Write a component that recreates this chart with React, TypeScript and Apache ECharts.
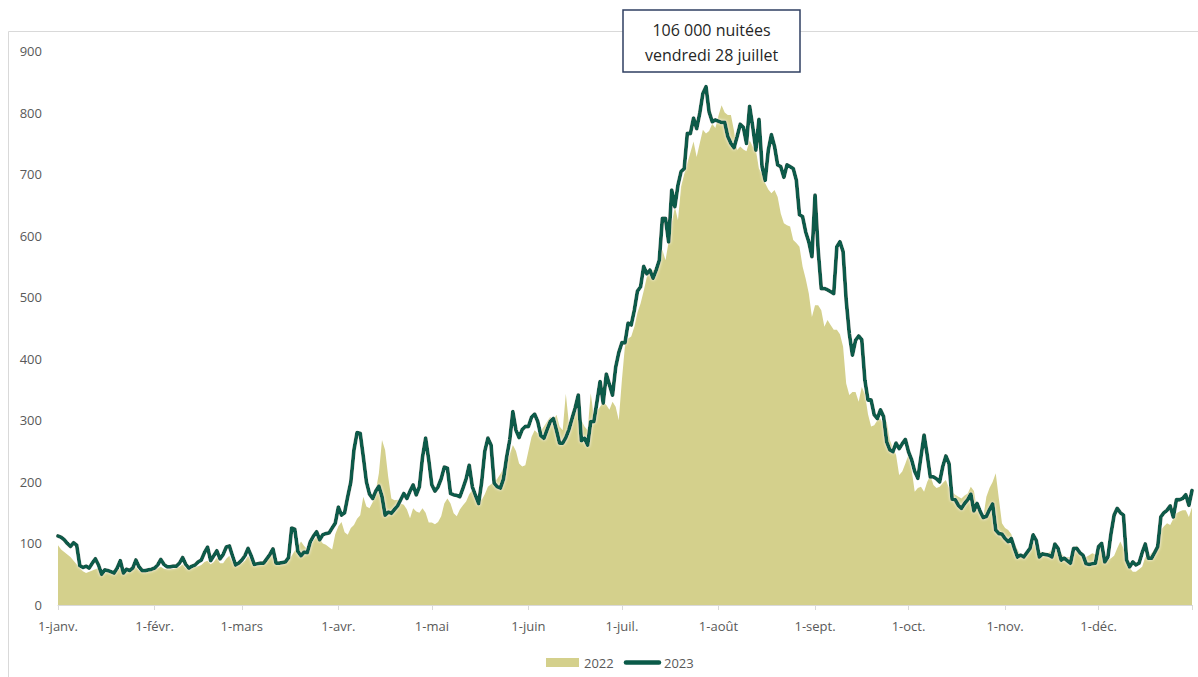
import React, { useEffect, useRef } from "react";
import * as echarts from "echarts";

const monthNames = ["janv.", "févr.", "mars", "avr.", "mai", "juin", "juil.", "août", "sept.", "oct.", "nov.", "déc."];
const monthLengths = [31, 28, 31, 30, 31, 30, 31, 31, 30, 31, 30, 31];

// 2022 (area)
const jan22 = [97,90,86,82,78,72,66,60,55,52,54,56,58,60,56,52,54,55,53,56,60,55,56,55,57,62,56,55,56,57,58];
const feb22 = [57,60,62,59,58,58,59,60,62,66,60,58,60,62,63,65,70,72,66,70,77,68,68,75,80,70,66,68];
const mar22 = [68,72,80,72,68,68,70,72,75,78,85,72,70,70,68,72,80,88,95,103,96,91,95,105,111,108,100,98,94,90,115];
const apr22 = [128,135,118,114,125,130,140,146,176,160,157,167,185,214,268,252,208,173,170,171,165,163,155,141,157,152,150,157,150,134];
const may22 = [134,131,135,144,165,173,165,149,144,155,162,168,180,187,179,175,171,180,192,196,200,205,213,222,230,245,260,250,230,225,227];
const jun22 = [250,273,284,279,283,290,298,306,300,309,290,284,343,295,314,322,310,300,290,284,344,306,315,322,330,325,317,330,322,300];
const jul22 = [365,422,433,436,452,475,490,510,533,540,544,548,560,577,560,590,620,647,625,680,700,718,735,753,728,750,772,766,770,782,775];
const aug22 = [795,812,800,796,796,770,739,745,740,737,755,745,739,709,700,685,675,669,674,663,636,620,617,615,593,588,582,550,530,506,468];
const sep22 = [487,487,479,452,463,455,447,447,440,420,360,341,346,346,330,354,343,310,290,292,300,303,292,298,268,255,244,211,217,230];
const oct22 = [244,220,184,190,192,184,200,211,195,190,192,198,203,190,184,179,176,173,178,181,192,185,154,160,142,176,190,200,214,173,133];
const nov22 = [125,122,115,100,90,81,82,87,95,105,90,87,86,85,85,90,98,88,84,78,78,78,88,97,89,82,78,81,84,82];
const dec22 = [84,100,85,73,76,80,92,103,92,78,60,54,54,58,62,78,80,84,90,95,122,128,133,130,140,149,152,154,154,143,159];

// 2023 (line)
const jan23 = [112,110,106,100,95,101,97,64,61,63,60,68,75,65,50,57,56,54,52,60,72,52,58,56,60,73,62,56,56,57,58];
const feb23 = [60,65,74,66,62,62,63,63,68,77,66,60,63,65,70,73,85,94,72,80,88,75,82,94,96,80,65,68];
const mar23 = [73,80,92,80,66,67,68,68,75,82,91,68,68,69,70,77,125,123,87,80,86,85,103,112,119,106,114,116,117,125,133];
const apr23 = [159,146,150,176,200,252,280,279,241,200,180,173,185,193,176,146,151,149,155,161,171,181,173,185,195,179,192,240,271,236];
const may23 = [195,185,192,205,224,222,181,179,178,176,190,205,227,192,178,165,200,250,271,260,198,192,190,205,240,268,314,284,272,285,290];
const jun23 = [290,305,310,298,275,271,285,298,303,284,263,263,272,285,303,320,341,267,271,260,298,298,330,363,328,375,358,341,386,410];
const jul23 = [426,426,458,455,479,510,517,550,538,544,531,544,560,628,628,590,674,647,682,704,709,766,766,791,774,799,831,842,801,785,788];
const aug23 = [786,784,784,761,750,743,761,781,776,750,810,777,739,789,712,690,739,764,745,715,712,695,715,712,709,690,634,631,606,590,566];
const sep23 = [666,577,514,514,512,509,506,582,590,574,495,441,406,430,437,431,365,333,333,309,303,317,306,265,252,249,263,254,262,269];
const oct23 = [249,236,217,206,241,276,244,208,208,205,200,225,242,230,172,171,162,157,165,171,180,153,165,152,142,144,155,164,122,116,115];
const nov23 = [108,103,108,92,78,81,78,85,92,114,105,78,83,82,81,78,99,92,73,76,72,68,92,92,85,81,67,66,67,68];
const dec23 = [95,100,70,78,116,146,157,150,146,73,62,70,65,68,85,99,76,76,85,95,143,150,154,161,143,171,171,173,179,162,186];

const values2022 = [...jan22, ...feb22, ...mar22, ...apr22, ...may22, ...jun22, ...jul22, ...aug22, ...sep22, ...oct22, ...nov22, ...dec22];
const values2023 = [...jan23, ...feb23, ...mar23, ...apr23, ...may23, ...jun23, ...jul23, ...aug23, ...sep23, ...oct23, ...nov23, ...dec23];

const categories: string[] = [];
monthLengths.forEach((len, m) => {
  for (let d = 1; d <= len; d++) categories.push(`${d}-${monthNames[m]}`);
});

const annotationLines = ["106 000 nuitées", "vendredi 28 juillet"];

const FONT = "'Open Sans', 'Noto Sans', sans-serif";
const AREA_COLOR = "#D4D08C";
const LINE_COLOR = "#0A5A48";

export default function App() {
  const ref = useRef<HTMLDivElement>(null);
  useEffect(() => {
    document.body.style.margin = "0";
    if (!ref.current) return;
    const chart = echarts.init(ref.current, undefined, { renderer: "svg" });
    const isMonthStart = (_i: number, v: string) => v.startsWith("1-");
    chart.setOption({
      animation: false,
      backgroundColor: "#ffffff",
      grid: { left: 58, right: 6, top: 51, bottom: 72 },
      xAxis: {
        type: "category",
        data: categories,
        boundaryGap: false,
        axisLine: { lineStyle: { color: "#D9D9D9", width: 1 } },
        axisTick: {
          interval: (i: number, v: string) => isMonthStart(i, v) || i === categories.length - 1,
          length: 5,
          lineStyle: { color: "#D9D9D9" },
        },
        axisLabel: {
          interval: isMonthStart,
          color: "#595959",
          fontSize: 13,
          fontFamily: FONT,
          margin: 14,
        },
        splitLine: { show: false },
      },
      yAxis: {
        type: "value",
        min: 0,
        max: 900,
        interval: 100,
        axisLine: { show: false },
        axisTick: { show: false },
        splitLine: { show: false },
        axisLabel: { color: "#595959", fontSize: 13, fontFamily: FONT, margin: 16 },
      },
      legend: {
        left: 541,
        top: 651,
        itemWidth: 33,
        itemHeight: 9,
        itemGap: 10,
        textStyle: { color: "#595959", fontSize: 13, fontFamily: FONT },
        data: [
          { name: "2022", icon: "rect" },
          { name: "2023", itemStyle: { opacity: 0 }, lineStyle: { width: 4.5 } },
        ],
      },
      series: [
        {
          name: "2022",
          type: "line",
          data: values2022,
          symbol: "none",
          lineStyle: { width: 0, opacity: 0 },
          itemStyle: { color: AREA_COLOR },
          areaStyle: { color: AREA_COLOR, opacity: 1 },
          z: 1,
        },
        {
          name: "2023",
          type: "line",
          data: values2023,
          symbol: "none",
          itemStyle: { color: LINE_COLOR },
          lineStyle: {
            color: LINE_COLOR,
            width: 3.8,
            join: "round",
            cap: "round",
            shadowColor: "rgba(255,255,255,0.9)",
            shadowBlur: 3,
          },
          z: 2,
        },
      ],
      graphic: [
        { type: "line", shape: { x1: 8.5, y1: 31.5, x2: 1198, y2: 31.5 }, style: { stroke: "#D9D9D9", lineWidth: 1 }, z: 0 },
        { type: "line", shape: { x1: 8.5, y1: 31.5, x2: 8.5, y2: 677 }, style: { stroke: "#D9D9D9", lineWidth: 1 }, z: 0 },
        {
          type: "rect",
          shape: { x: 623, y: 10, width: 177, height: 62 },
          style: { fill: "#ffffff", stroke: "#2F3F62", lineWidth: 1.5 },
          z: 100,
        },
        {
          type: "text",
          x: 711.5,
          y: 30,
          style: { text: annotationLines[0], fontSize: 16, fontFamily: FONT, fill: "#262626", align: "center", verticalAlign: "middle" },
          z: 101,
        },
        {
          type: "text",
          x: 711.5,
          y: 55,
          style: { text: annotationLines[1], fontSize: 16, fontFamily: FONT, fill: "#262626", align: "center", verticalAlign: "middle" },
          z: 101,
        },
      ],
    });
    return () => chart.dispose();
  }, []);
  return <div ref={ref} style={{ width: 1198, height: 677 }} />;
}
